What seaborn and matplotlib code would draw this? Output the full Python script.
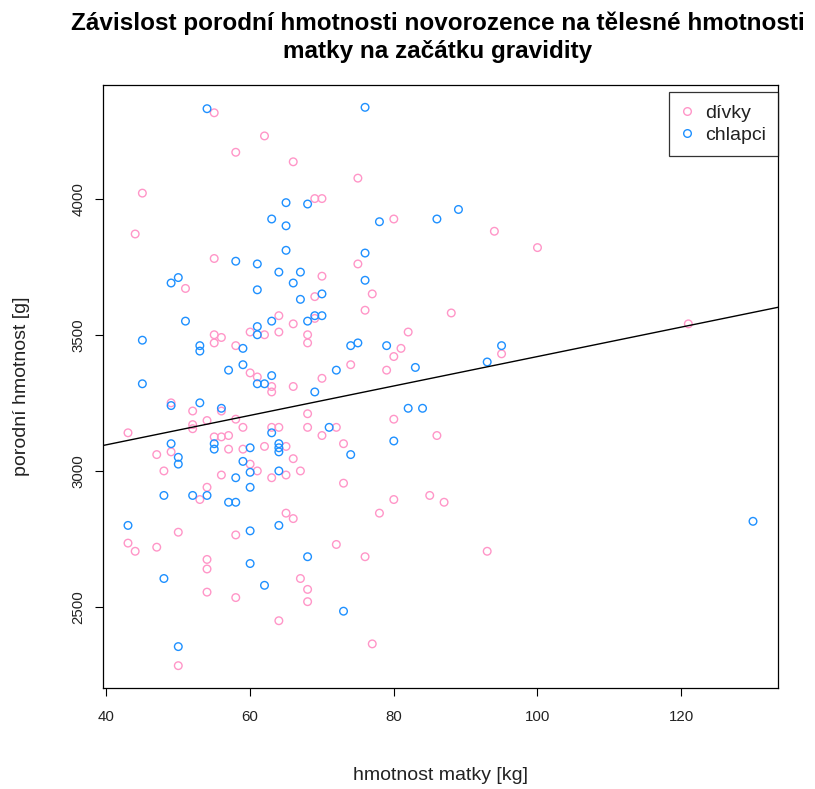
import numpy as np
import pandas as pd
import matplotlib
matplotlib.use("Agg")
import matplotlib.pyplot as plt
import seaborn as sns
from matplotlib.lines import Line2D

# ---- data ----
girls_kg = [55, 58, 45, 44, 55, 51, 62, 66, 75, 69, 70, 80, 75, 70, 77, 94, 100,
            55, 55, 56, 58, 60, 60, 49, 52, 56, 58, 54, 52, 52, 59, 43, 55, 56, 57,
            57, 59, 49, 47, 48, 56, 54, 69, 76, 64, 62, 64, 66, 69, 68, 68, 61, 63,
            63, 66, 70, 74, 79, 68, 63, 64, 68, 72, 70, 73, 65, 62, 66, 60, 61, 67,
            65, 63, 73, 88, 82, 81, 80, 95, 80, 86, 53, 43, 44, 47, 50, 58, 54, 54,
            54, 58, 50, 65, 66, 78, 80, 72, 76, 67, 68, 68, 64, 77, 85, 87, 93, 121]
girls_g = [4315, 4170, 4020, 3870, 3780, 3670, 4230, 4135, 4075, 4000, 4000, 3925,
           3760, 3715, 3650, 3880, 3820, 3500, 3470, 3490, 3460, 3510, 3360, 3250,
           3220, 3220, 3190, 3185, 3170, 3155, 3160, 3140, 3125, 3125, 3130, 3080,
           3080, 3070, 3060, 3000, 2985, 2940, 3640, 3590, 3570, 3500, 3510, 3540,
           3560, 3500, 3470, 3345, 3310, 3290, 3310, 3340, 3390, 3370, 3210, 3160,
           3160, 3160, 3160, 3130, 3100, 3090, 3090, 3045, 3025, 3000, 3000, 2985,
           2975, 2955, 3580, 3510, 3450, 3420, 3430, 3190, 3130, 2895, 2735, 2705,
           2720, 2775, 2765, 2675, 2640, 2555, 2535, 2285, 2845, 2825, 2845, 2895,
           2730, 2685, 2605, 2565, 2520, 2450, 2365, 2910, 2885, 2705, 3540]

boys_kg = [54, 58, 50, 49, 76, 65, 68, 63, 65, 78, 65, 61, 64, 67, 76, 66, 76, 61,
           86, 89, 51, 45, 53, 53, 59, 59, 57, 45, 49, 53, 56, 55, 55, 60, 49, 50,
           50, 59, 58, 67, 70, 63, 61, 61, 68, 69, 70, 74, 75, 79, 61, 62, 63, 69,
           72, 63, 71, 64, 64, 64, 74, 60, 64, 60, 83, 95, 93, 82, 84, 80, 48, 52,
           54, 57, 58, 43, 60, 60, 48, 50, 64, 68, 62, 73, 130]
boys_g = [4330, 3770, 3710, 3690, 4335, 3985, 3980, 3925, 3900, 3915, 3810, 3760,
          3730, 3730, 3800, 3690, 3700, 3665, 3925, 3960, 3550, 3480, 3460, 3440,
          3450, 3390, 3370, 3320, 3240, 3250, 3230, 3100, 3080, 3085, 3100, 3050,
          3025, 3035, 2975, 3630, 3650, 3550, 3530, 3500, 3550, 3570, 3570, 3460,
          3470, 3460, 3320, 3320, 3350, 3290, 3370, 3140, 3160, 3100, 3085, 3070,
          3060, 2995, 3000, 2940, 3380, 3460, 3400, 3230, 3230, 3110, 2910, 2910,
          2910, 2885, 2885, 2800, 2780, 2660, 2605, 2355, 2800, 2685, 2580, 2485,
          2815]

groups = ["dívky", "chlapci"]
x_ticks = [40, 60, 80, 100, 120]
y_ticks = [2500, 3000, 3500, 4000]
line_intercept = 2880
line_slope = 5.4

title = "Závislost porodní hmotnosti novorozence na tělesné hmotnosti\nmatky na začátku gravidity"
xlabel = "hmotnost matky [kg]"
ylabel = "porodní hmotnost [g]"

# ---- styling ----
sns.set_style("white")
plt.rcParams["font.family"] = ["Liberation Sans", "DejaVu Sans"]

colors = {"dívky": "#FF96C8", "chlapci": "#1E90FF"}

df = pd.concat([
    pd.DataFrame({"kg": girls_kg, "g": girls_g, "pohlavi": groups[0]}),
    pd.DataFrame({"kg": boys_kg, "g": boys_g, "pohlavi": groups[1]}),
], ignore_index=True)

W, H = 815, 789
fig = plt.figure(figsize=(W / 100, H / 100), dpi=100)
ax = fig.add_axes([103 / W, 1 - 688 / H, (778 - 103) / W, (688 - 85) / H])

for grp in groups:
    sub = df[df["pohlavi"] == grp]
    sns.scatterplot(data=sub, x="kg", y="g", ax=ax, color=colors[grp], s=30,
                    linewidth=1.0, legend=False)
    coll = ax.collections[-1]
    coll.set_facecolor("none")
    coll.set_edgecolor(colors[grp])

xmin, xmax = 39.52, 133.48
ymin, ymax = 2203, 4417
ax.set_xlim(xmin, xmax)
ax.set_ylim(ymin, ymax)

lx = np.array([xmin, xmax])
ax.plot(lx, line_intercept + line_slope * lx, color="black", lw=1.0)

ax.set_xticks(x_ticks)
ax.set_yticks(y_ticks)
ax.set_xticklabels([str(v) for v in x_ticks])
ax.set_yticklabels([str(v) for v in y_ticks])
for lbl in ax.get_yticklabels():
    lbl.set_rotation(90)
    lbl.set_va("center")
ax.tick_params(axis="both", direction="out", length=5.5, width=0.8, color="black",
               labelsize=10.8, labelcolor="#222222")
ax.tick_params(axis="x", bottom=True, pad=10.5)
ax.tick_params(axis="y", left=True, pad=7)

for sp in ax.spines.values():
    sp.set_visible(True)
    sp.set_color("black")
    sp.set_linewidth(0.9)

ax.set_xlabel(xlabel, fontsize=14, color="#222222")
ax.set_ylabel(ylabel, fontsize=14, color="#222222")
ax.xaxis.label.set_va("center")
ax.yaxis.label.set_va("center")
ax.xaxis.set_label_coords(0.5, (688 - 775) / 603)
ax.yaxis.set_label_coords((22 - 103) / 675, 0.5)

fig.text(438 / W, 1 - 37 / H, title, ha="center", va="center", fontsize=17.5,
         fontweight="bold", linespacing=1.28, color="black")

handles = [Line2D([], [], marker="o", linestyle="none", markerfacecolor="none",
                  markeredgecolor=colors[g], markersize=5.5, markeredgewidth=1.0)
           for g in groups]
leg = ax.legend(handles, groups, loc="upper right",
                bbox_to_anchor=(778 / W, 1 - 92 / H), bbox_transform=fig.transFigure,
                frameon=True, fancybox=False, edgecolor="black", fontsize=14,
                handletextpad=0.55, borderpad=0.62, labelspacing=0.22,
                handlelength=0.7, borderaxespad=0.0)
leg.get_frame().set_linewidth(0.9)
for t in leg.get_texts():
    t.set_color("#222222")

fig.savefig("out.png", dpi=100)
